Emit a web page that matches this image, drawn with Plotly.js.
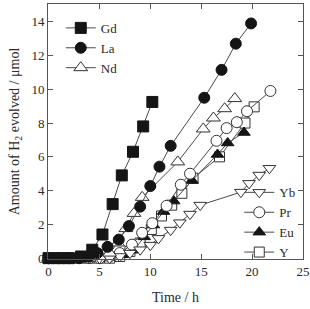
<!DOCTYPE html>
<html>
<head>
<meta charset="utf-8">
<script src="https://cdn.plot.ly/plotly-3.0.1.min.js"></script>
<style>html,body{margin:0;padding:0;background:#fff}#chart{width:310px;height:309px}</style>
</head>
<body>
<div id="chart"></div>
<script>
// Hydrogen evolution over time for each rare-earth sample (µmol vs h)
const gdTime = [0, 1, 2, 3.2, 4.3, 5.3, 6.3, 7.2, 8.3, 9.3, 10.2];
const gdH2   = [0, 0, 0, 0.1, 0.5, 1.4, 3.2, 4.9, 6.3, 7.8, 9.25];

const laTime = [0, 1, 2, 3, 4, 4.8, 5.8, 6.9, 7.9, 9.0, 10.0, 10.9, 12.0, 15.3, 17.0, 18.4, 19.9];
const laH2   = [0, 0, 0, 0, 0.1, 0.3, 0.67, 1.1, 1.9, 3.05, 4.27, 5.42, 6.65, 9.5, 11.15, 12.7, 13.9];

const ndTime = [0, 1, 2, 3, 4, 5, 6, 6.8, 7.6, 8.4, 9.2, 12.7, 15.2, 16.2, 17.3, 18.3];
const ndH2   = [0, 0, 0, 0, 0, 0.1, 0.3, 0.9, 1.75, 2.65, 3.6, 5.7, 7.65, 8.3, 8.85, 9.45];

const ybTime = [0, 1, 2, 3, 4, 5, 6, 7, 8, 9.0, 10.0, 10.8, 12.0, 12.9, 13.9, 14.9, 18.9, 19.7, 20.7, 21.7];
const ybH2   = [0, 0, 0, 0, 0, 0, 0, 0.1, 0.3, 0.5, 0.77, 1.17, 1.66, 2.1, 2.61, 3.14, 3.91, 4.43, 4.92, 5.32];

const prTime = [0, 1, 2, 3, 4, 5, 6, 7, 8.2, 9.2, 10.2, 11.6, 13.0, 13.9, 16.5, 17.5, 18.5, 19.5, 21.8];
const prH2   = [0, 0, 0, 0, 0, 0, 0.1, 0.3, 0.8, 1.5, 2.07, 3.1, 4.35, 5.0, 6.95, 7.7, 8.05, 8.7, 9.9];

const euTime = [0, 1, 2, 3, 4, 5, 6, 7.4, 8.4, 9.4, 10.3, 11.3, 12.3, 14.1, 16.6, 17.6, 19.2];
const euH2   = [0, 0, 0, 0, 0, 0, 0.05, 0.2, 0.47, 1.26, 1.96, 2.76, 3.38, 4.6, 6.14, 6.82, 7.44];

const yTime  = [0, 1, 2, 3, 4, 5, 6, 7, 8, 9, 10.1, 11.1, 12.1, 13.1, 14.2, 16.8, 19.3, 20.2];
const yH2    = [0, 0, 0, 0, 0, 0, 0, 0.1, 0.4, 0.9, 1.7, 2.5, 3.14, 3.84, 4.73, 6.0, 8.0, 8.96];

const yTicks = [0, 2, 4, 6, 8, 10, 12, 14];
const xTicks = [0, 5, 10, 15, 20, 25];

const LINE = '#4a4a4a';
const INK = '#151515';
const TEXT = '#2a2a2a';
const FONT = 'Liberation Serif, Times New Roman, serif';

function series(name, x, y, symbol, filled, legend, rank, size) {
  return {
    type: 'scatter', mode: 'lines+markers', name: name, x: x, y: y,
    cliponaxis: false, legend: legend, legendrank: rank,
    line: {color: LINE, width: 1},
    marker: {
      symbol: symbol, size: size,
      color: filled ? INK : '#ffffff',
      line: {color: filled ? INK : '#333333', width: 1}
    }
  };
}

const traces = [
  series('Y',  yTime,  yH2,  'square',        false, 'legend2', 4, 10),
  series('Eu', euTime, euH2, 'triangle-up',   true,  'legend2', 3, 11),
  series('Pr', prTime, prH2, 'circle',        false, 'legend2', 2, 11),
  series('Yb', ybTime, ybH2, 'triangle-down', false, 'legend2', 1, 11),
  series('Nd', ndTime, ndH2, 'triangle-up',   false, 'legend',  3, 12),
  series('La', laTime, laH2, 'circle',        true,  'legend',  2, 11),
  series('Gd', gdTime, gdH2, 'square',        true,  'legend',  1, 11)
];

const axisBase = {
  showline: true, linecolor: '#555', linewidth: 1, mirror: 'ticks',
  ticks: 'inside', ticklen: 5, tickcolor: '#555', tickwidth: 1,
  showgrid: false, zeroline: false,
  tickfont: {family: FONT, size: 13, color: TEXT}
};

const legendFont = {family: FONT, size: 13, color: TEXT};

const layout = {
  width: 310, height: 309,
  margin: {l: 48, r: 7, t: 4, b: 50},
  paper_bgcolor: '#fff', plot_bgcolor: '#fff',
  font: {family: FONT, color: TEXT},
  showlegend: true,
  xaxis: Object.assign({}, axisBase, {
    range: [-0.05, 25], tickvals: xTicks,
    title: {text: 'Time / h', font: {family: FONT, size: 14, color: TEXT}, standoff: 14}
  }),
  yaxis: Object.assign({}, axisBase, {
    range: [-0.05, 15.05], tickvals: yTicks,
    title: {text: 'Amount of H<sub>2</sub> evolved / μmol', font: {family: FONT, size: 14, color: TEXT}, standoff: 8}
  }),
  legend: {
    x: 0.05, y: 0.965, xanchor: 'left', yanchor: 'top',
    bgcolor: 'rgba(0,0,0,0)', traceorder: 'normal',
    font: legendFont, itemwidth: 30, tracegroupgap: 0
  },
  legend2: {
    x: 0.75, y: 0.32, xanchor: 'left', yanchor: 'top',
    bgcolor: 'rgba(0,0,0,0)', traceorder: 'normal',
    font: legendFont, itemwidth: 30, tracegroupgap: 0
  }
};

Plotly.newPlot('chart', traces, layout, {displayModeBar: false, staticPlot: true});
</script>
</body>
</html>
